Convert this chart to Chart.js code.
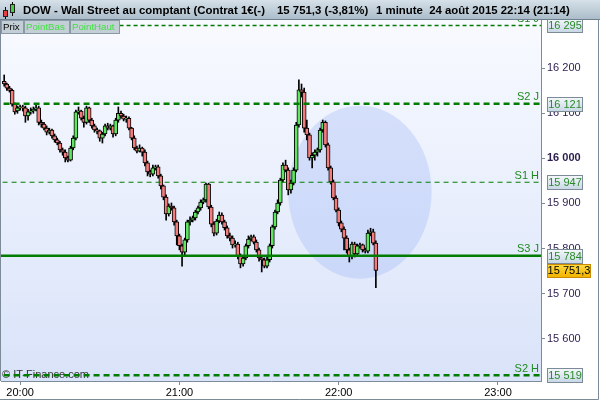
<!DOCTYPE html>
<html>
<head>
<meta charset="utf-8">
<script src="https://cdn.jsdelivr.net/npm/chart.js@4.4.0/dist/chart.umd.min.js"></script>
<style>
  html, body { margin: 0; padding: 0; background: #fff; }
  #wrap { width: 600px; height: 400px; }
</style>
</head>
<body>
<div id="wrap"><canvas id="chart" width="600" height="400"></canvas></div>
<script>
// one-minute candles, first one at 19:54
const firstCandle = '19:54';
const openPrices = [
  16171, 16165, 16156, 16151, 16120, 16105, 16112, 16114, 16112, 16094,
  16103, 16105, 16109, 16112, 16080, 16076, 16067, 16058, 16063, 16050,
  16041, 16034, 16019, 16014, 16001, 15996, 16023, 16045, 16103, 16105,
  16089, 16080, 16112, 16085, 16072, 16063, 16061, 16045, 16054, 16072,
  16067, 16072, 16054, 16085, 16100, 16094, 16087, 16089, 16067, 16045,
  16023, 16016, 16023, 16014, 15990, 15970, 15965, 15979, 15981, 15961,
  15939, 15914, 15877, 15894, 15890, 15859, 15828, 15806, 15792, 15819,
  15859, 15863, 15868, 15881, 15890, 15903, 15908, 15943, 15892, 15854,
  15834, 15861, 15874, 15859, 15846, 15828, 15823, 15808, 15810, 15783,
  15766, 15779, 15806, 15821, 15826, 15814, 15797, 15779, 15775, 15761,
  15775, 15806, 15848, 15881, 15901, 15952, 15985, 15974, 15930, 15945,
  15974, 16074, 16152, 16147, 16067, 16052, 16001, 16007, 16014, 16019,
  16063, 16080, 16030, 15979, 15948, 15912, 15885, 15857, 15843, 15823,
  15797, 15783, 15810, 15788, 15806, 15808, 15797, 15794, 15834, 15837, 15812
];
const highPrices = [
  16185, 16167, 16160, 16154, 16123, 16116, 16118, 16118, 16116, 16109,
  16112, 16114, 16120, 16116, 16085, 16080, 16072, 16067, 16065, 16054,
  16045, 16038, 16023, 16019, 16005, 16027, 16050, 16107, 16114, 16107,
  16094, 16116, 16114, 16089, 16076, 16067, 16063, 16058, 16076, 16078,
  16076, 16074, 16089, 16114, 16105, 16098, 16094, 16092, 16069, 16050,
  16027, 16030, 16025, 16019, 15994, 15974, 15985, 15985, 15985, 15965,
  15941, 15919, 15899, 15901, 15894, 15863, 15832, 15810, 15823, 15863,
  15870, 15872, 15885, 15894, 15908, 15912, 15945, 15945, 15896, 15859,
  15865, 15881, 15879, 15863, 15850, 15834, 15828, 15817, 15814, 15788,
  15783, 15810, 15828, 15830, 15830, 15819, 15801, 15783, 15779, 15781,
  15810, 15852, 15885, 15908, 15956, 15990, 15996, 15979, 15952, 15979,
  16080, 16174, 16165, 16156, 16085, 16056, 16012, 16019, 16023, 16067,
  16085, 16083, 16034, 15983, 15952, 15917, 15890, 15861, 15848, 15828,
  15801, 15814, 15814, 15810, 15812, 15810, 15801, 15841, 15845, 15843, 15817
];
const lowPrices = [
  16160, 16151, 16147, 16116, 16098, 16100, 16107, 16105, 16080, 16085,
  16098, 16100, 16105, 16074, 16069, 16063, 16052, 16054, 16045, 16036,
  16030, 16014, 16007, 15992, 15992, 15994, 16019, 16041, 16098, 16085,
  16069, 16076, 16080, 16067, 16058, 16054, 16038, 16034, 16050, 16063,
  16063, 16047, 16050, 16080, 16089, 16083, 16080, 16063, 16041, 16019,
  16012, 16014, 16005, 15983, 15961, 15959, 15961, 15974, 15956, 15932,
  15908, 15863, 15872, 15885, 15852, 15808, 15797, 15761, 15783, 15814,
  15852, 15859, 15863, 15877, 15885, 15899, 15903, 15888, 15848, 15828,
  15830, 15857, 15854, 15841, 15823, 15817, 15801, 15803, 15777, 15757,
  15761, 15775, 15801, 15817, 15810, 15792, 15772, 15748, 15757, 15757,
  15770, 15801, 15843, 15877, 15896, 15948, 15970, 15919, 15923, 15941,
  15970, 16069, 16136, 16058, 16041, 15996, 15979, 15996, 16005, 16014,
  16058, 16025, 15974, 15943, 15908, 15881, 15850, 15837, 15797, 15790,
  15770, 15777, 15781, 15783, 15801, 15792, 15790, 15790, 15828, 15808, 15713
];
const closePrices = [
  16165, 16156, 16151, 16120, 16103, 16112, 16114, 16112, 16094, 16103,
  16105, 16109, 16112, 16080, 16076, 16067, 16058, 16063, 16050, 16041,
  16034, 16019, 16014, 16001, 15996, 16023, 16045, 16103, 16105, 16089,
  16080, 16112, 16085, 16072, 16063, 16061, 16045, 16054, 16072, 16067,
  16072, 16054, 16085, 16100, 16094, 16087, 16089, 16067, 16045, 16023,
  16016, 16023, 16014, 15990, 15970, 15965, 15979, 15981, 15961, 15939,
  15914, 15877, 15894, 15890, 15859, 15828, 15806, 15792, 15819, 15859,
  15863, 15868, 15881, 15890, 15903, 15908, 15943, 15892, 15854, 15834,
  15861, 15874, 15859, 15846, 15828, 15823, 15808, 15810, 15783, 15766,
  15779, 15806, 15821, 15826, 15814, 15797, 15779, 15775, 15761, 15775,
  15806, 15848, 15881, 15901, 15952, 15985, 15974, 15930, 15945, 15974,
  16074, 16152, 16147, 16067, 16052, 16001, 16007, 16014, 16019, 16063,
  16080, 16030, 15979, 15948, 15912, 15885, 15857, 15843, 15823, 15797,
  15783, 15810, 15788, 15806, 15808, 15797, 15794, 15834, 15837, 15812, 15751.3
];

const levelValues = [16295, 16121, 15947, 15784, 15519];
const levelNames = ['S1 J', 'S2 J', 'S1 H', 'S3 J', 'S2 H'];
const lastPrice = 15751.3;
const yTickValues = [15600, 15700, 15800, 15900, 16000, 16100, 16200];
const xTickLabels = ['20:00', '21:00', '22:00', '23:00'];
// highlighted zone (circle drawn on the chart)
const zoneCenter = ['22:08', 15925];
const zoneRadius = [27, 192]; // minutes, points

const FONT = "'Liberation Sans', Arial, sans-serif";
const GREEN = '#007d00';

function toMinutes(t) {
  const p = t.split(':').map(Number);
  return (p[0] - 20) * 60 + p[1];
}
function fmt(v) {
  const parts = String(v).split('.');
  return parts[0].replace(/\B(?=(\d{3})+(?!\d))/g, ' ') + (parts[1] ? ',' + parts[1] : '');
}

const start = toMinutes(firstCandle);
const bodies = openPrices.map((o, i) => ({ x: start + i, y: [o, closePrices[i]] }));
const wicks = lowPrices.map((l, i) => ({ x: start + i, y: [l, highPrices[i]] }));
const bodyColors = openPrices.map((o, i) => closePrices[i] >= o ? '#5fe85f' : '#f47c7c');

const levelStyles = [
  { w: 1.5, dash: [4, 3] },
  { w: 2.5, dash: [6, 4] },
  { w: 1, dash: [5, 4] },
  { w: 2.5, dash: [] },
  { w: 2.5, dash: [6, 4] }
];

const levelSets = levelValues.map((v, i) => ({
  type: 'line',
  data: [{ x: -10, y: v }, { x: 200, y: v }],
  borderColor: GREEN,
  borderWidth: levelStyles[i].w,
  borderDash: levelStyles[i].dash,
  pointRadius: 0,
  order: 0
}));

const decor = {
  id: 'decor',
  beforeDraw(chart) {
    const { ctx, chartArea: a } = chart;
    ctx.save();
    ctx.fillStyle = '#fff';
    ctx.fillRect(0, 0, chart.width, chart.height);
    const g = ctx.createLinearGradient(0, a.top, 0, a.bottom);
    g.addColorStop(0, '#f8faff');
    g.addColorStop(1, '#d9e3f9');
    ctx.fillStyle = g;
    ctx.fillRect(a.left, a.top, a.right - a.left, a.bottom - a.top);
    ctx.restore();
  },
  beforeDatasetsDraw(chart) {
    const { ctx, chartArea: a, scales: { x, y } } = chart;
    ctx.save();
    ctx.beginPath();
    ctx.rect(a.left, a.top, a.right - a.left, a.bottom - a.top);
    ctx.clip();
    const cx = x.getPixelForValue(toMinutes(zoneCenter[0]));
    const cy = y.getPixelForValue(zoneCenter[1]);
    const rx = x.getPixelForValue(toMinutes(zoneCenter[0]) + zoneRadius[0]) - cx;
    const ry = y.getPixelForValue(zoneCenter[1] - zoneRadius[1]) - cy;
    ctx.beginPath();
    ctx.ellipse(cx, cy, rx, ry, 0, 0, Math.PI * 2);
    ctx.fillStyle = 'rgba(150, 175, 245, 0.3)';
    ctx.fill();
    ctx.fillStyle = '#333';
    ctx.font = '11px ' + FONT;
    ctx.textBaseline = 'middle';
    ctx.fillText('\u00a9 IT-Finance.com', a.left + 1, 375);
    ctx.restore();
  },
  afterDatasetsDraw(chart) {
    const { ctx, chartArea: a, scales: { y } } = chart;
    ctx.save();
    ctx.font = '11px ' + FONT;
    ctx.fillStyle = '#1f8a1f';
    ctx.textAlign = 'right';
    ctx.textBaseline = 'bottom';
    levelValues.forEach((v, i) => {
      ctx.fillText(levelNames[i], a.right - 2, y.getPixelForValue(v) - 1);
    });
    ctx.restore();
  },
  afterDraw(chart) {
    const { ctx, chartArea: a, scales: { y } } = chart;
    ctx.save();
    // boxes on the price axis
    ctx.font = '11px ' + FONT;
    ctx.textAlign = 'center';
    ctx.textBaseline = 'middle';
    levelValues.forEach(v => {
      const py = Math.round(y.getPixelForValue(v));
      const g = ctx.createLinearGradient(0, py - 7, 0, py + 7);
      g.addColorStop(0, '#f6f9fc');
      g.addColorStop(1, '#c9d8e6');
      ctx.fillStyle = g;
      ctx.fillRect(a.right + 6, py - 7, 36, 15);
      ctx.strokeStyle = '#7d8b99';
      ctx.lineWidth = 1;
      ctx.strokeRect(a.right + 6.5, py - 6.5, 35, 14);
      ctx.fillStyle = '#2a8a2a';
      ctx.fillText(fmt(v), a.right + 24, py + 1);
    });
    const pp = Math.round(y.getPixelForValue(lastPrice));
    const gy = ctx.createLinearGradient(0, pp - 7, 0, pp + 7);
    gy.addColorStop(0, '#ffe04a');
    gy.addColorStop(1, '#f2b400');
    ctx.fillStyle = gy;
    ctx.fillRect(a.right + 6, pp - 6, 44, 14);
    ctx.strokeStyle = '#c98a00';
    ctx.strokeRect(a.right + 6.5, pp - 5.5, 43, 13);
    ctx.fillStyle = '#000';
    ctx.fillText(fmt(lastPrice), a.right + 28, pp + 1);

    // header bar
    const hg = ctx.createLinearGradient(0, 0, 0, 20);
    hg.addColorStop(0, '#d6e1e9');
    hg.addColorStop(1, '#a9bbc8');
    ctx.fillStyle = hg;
    ctx.fillRect(0, 0, chart.width, 20);
    ctx.fillStyle = '#6f8090';
    ctx.fillRect(0, 19, chart.width, 1);
    // small candle icon
    ctx.fillStyle = '#000';
    ctx.fillRect(5, 7, 1, 12);
    ctx.fillRect(12, 2, 1, 14);
    ctx.fillStyle = '#e84040';
    ctx.fillRect(3, 10, 5, 7);
    ctx.strokeStyle = '#222';
    ctx.strokeRect(3.5, 10.5, 4, 6);
    ctx.fillStyle = '#40d040';
    ctx.fillRect(10, 4, 5, 9);
    ctx.strokeRect(10.5, 4.5, 4, 8);

    ctx.fillStyle = '#000';
    ctx.font = 'bold 11.4px ' + FONT;
    ctx.textAlign = 'left';
    ctx.textBaseline = 'alphabetic';
    ctx.fillText('DOW - Wall Street au comptant (Contrat 1\u20ac(-)', 23, 14);
    ctx.fillText('15 751,3 (-3,81%)', 277, 14);
    ctx.fillText('1 minute  24 ao\u00fbt 2015 22:14 (21:14)', 376, 14);

    // tabs
    const tabs = [['Prix', 1, 23, '#000'], ['PointBas', 24, 46, '#3ee23e'], ['PointHaut', 70, 50, '#3ee23e']];
    ctx.font = '9.7px ' + FONT;
    ctx.textBaseline = 'middle';
    tabs.forEach(t => {
      ctx.fillStyle = '#c3ced6';
      ctx.fillRect(t[1], 20, t[2], 14);
      ctx.strokeStyle = '#8a99a6';
      ctx.strokeRect(t[1] + 0.5, 20.5, t[2] - 1, 13);
      ctx.fillStyle = t[3];
      ctx.fillText(t[0], t[1] + 2, 27.5);
    });

    // frame
    ctx.strokeStyle = '#7d8b99';
    ctx.beginPath();
    ctx.moveTo(0.5, 20);
    ctx.lineTo(0.5, a.bottom);
    ctx.moveTo(chart.width - 1.5, 20);
    ctx.lineTo(chart.width - 1.5, chart.height - 0.5);
    ctx.lineTo(0, chart.height - 0.5);
    ctx.stroke();
    ctx.restore();
  }
};

new Chart(document.getElementById('chart'), {
  data: {
    datasets: [
      ...levelSets,
      {
        type: 'bar',
        data: bodies,
        backgroundColor: bodyColors,
        borderColor: '#000',
        borderWidth: 1,
        borderSkipped: false,
        barThickness: 4,
        minBarLength: 1,
        grouped: false,
        order: 1
      },
      {
        type: 'bar',
        data: wicks,
        backgroundColor: '#000',
        borderWidth: 0,
        barThickness: 1,
        grouped: false,
        order: 2
      }
    ]
  },
  options: {
    responsive: false,
    devicePixelRatio: 1,
    animation: false,
    layout: { padding: { top: 20, left: 1, right: 0, bottom: 0 } },
    plugins: { legend: { display: false }, tooltip: { enabled: false } },
    scales: {
      x: {
        type: 'linear',
        offset: false,
        min: -7.2,
        max: 196.2,
        afterBuildTicks: s => { s.ticks = xTickLabels.map(t => ({ value: toMinutes(t) })); },
        afterFit: s => { s.height = 19; },
        grid: { drawOnChartArea: false, tickLength: 4, color: '#7d8b99', offset: false },
        border: { color: '#7d8b99' },
        ticks: {
          callback: (v, i) => xTickLabels[i],
          font: { family: FONT, size: 11 },
          color: '#000',
          padding: 1,
          maxRotation: 0
        }
      },
      y: {
        position: 'right',
        min: 15506,
        max: 16307,
        afterBuildTicks: s => { s.ticks = yTickValues.map(v => ({ value: v })); },
        afterFit: s => { s.width = 59; },
        grid: { drawOnChartArea: false, tickLength: 4, color: '#7d8b99' },
        border: { color: '#7d8b99' },
        ticks: {
          callback: v => fmt(v),
          font: c => ({ family: FONT, size: 11, weight: c.tick && c.tick.value === 16000 ? 'bold' : 'normal' }),
          color: '#2b1d4f',
          padding: 2
        }
      }
    }
  },
  plugins: [decor]
});
</script>
</body>
</html>
